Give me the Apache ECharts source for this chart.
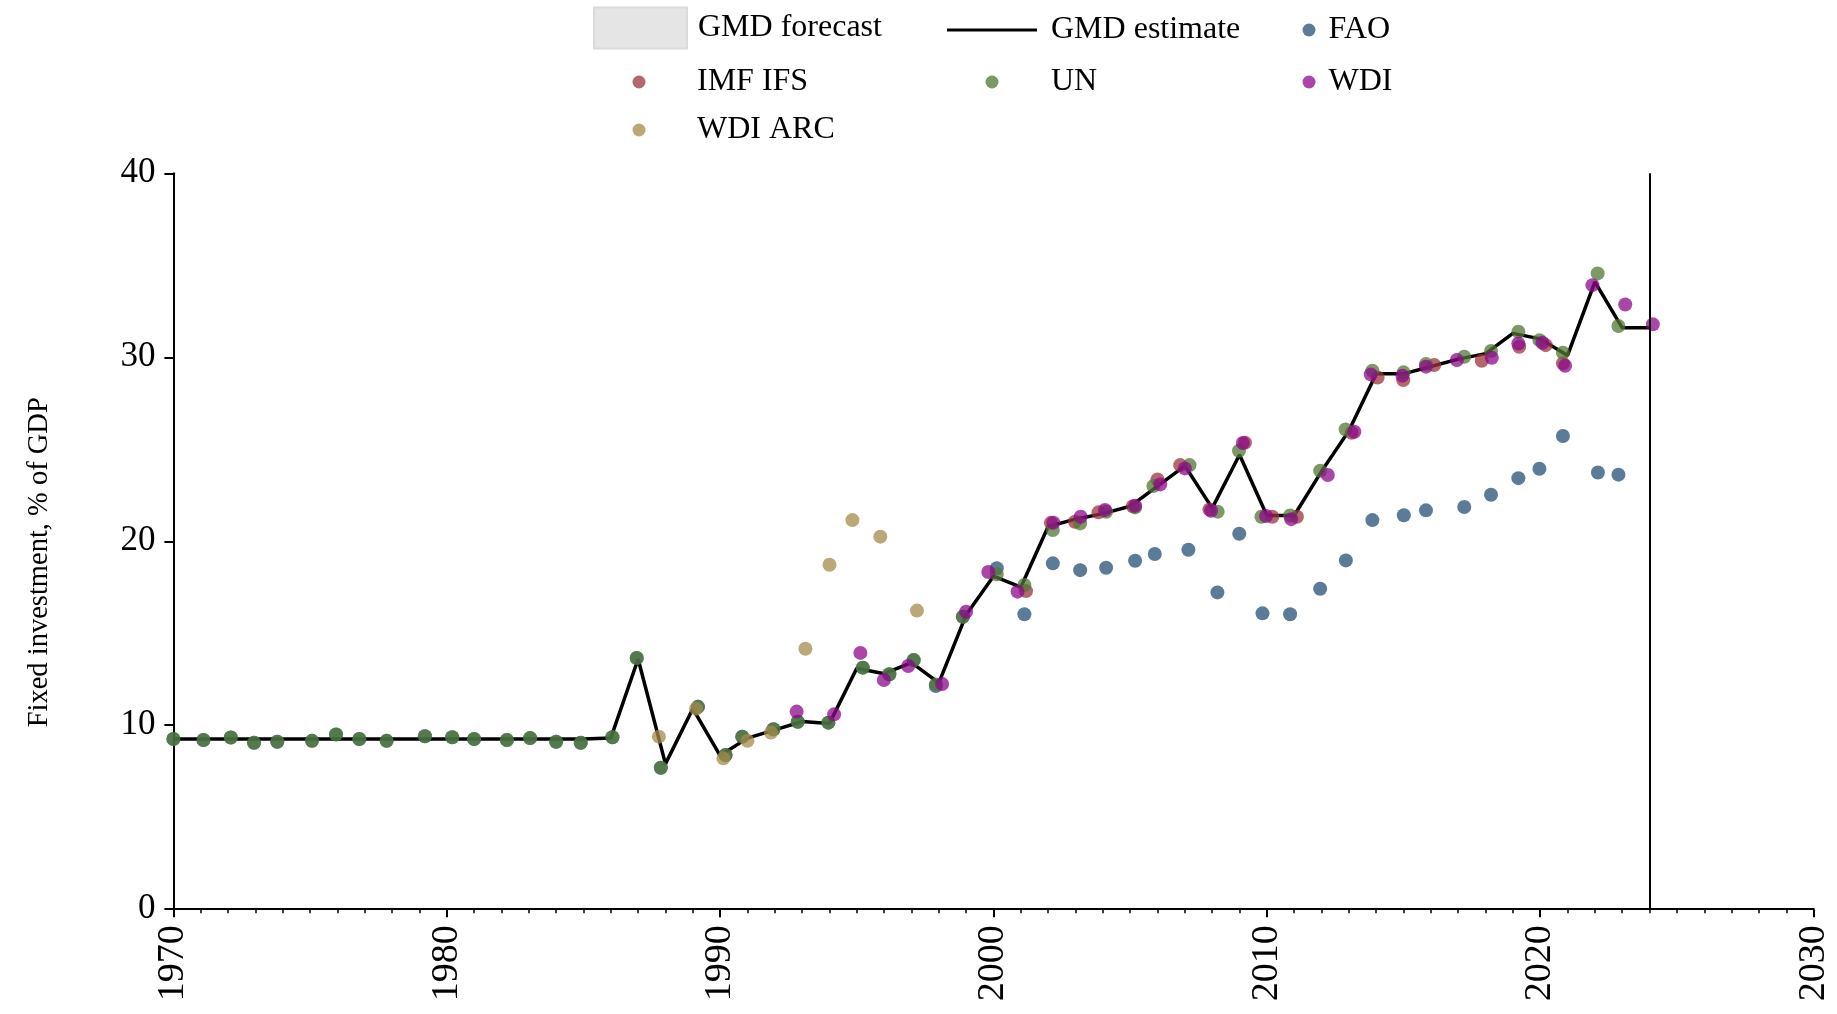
<!DOCTYPE html>
<html>
<head>
<meta charset="utf-8">
<script src="https://cdn.jsdelivr.net/npm/echarts@6/dist/echarts.min.js"></script>
<style>
html,body{margin:0;padding:0;background:#ffffff;}
#chart{width:1837px;height:1014px;}
</style>
</head>
<body>
<div id="chart"></div>
<script>
// ---------- DATA ----------
const gmdYears = [1970,1971,1972,1973,1974,1975,1976,1977,1978,1979,1980,1981,1982,1983,1984,1985,1986,1987,1988,1989,1990,1991,1992,1993,1994,1995,1996,1997,1998,1999,2000,2001,2002,2003,2004,2005,2006,2007,2008,2009,2010,2011,2012,2013,2014,2015,2016,2017,2018,2019,2020,2021,2022,2023,2024];
const gmdEstimate = [9.25,9.25,9.25,9.25,9.25,9.25,9.25,9.25,9.25,9.25,9.25,9.25,9.25,9.25,9.25,9.25,9.3,13.6,7.9,10.9,8.35,9.3,9.75,10.2,10.1,13.1,12.8,13.4,12.3,16.0,18.1,17.5,20.8,21.2,21.5,21.9,23.0,24.1,21.8,24.7,21.4,21.4,23.8,26.0,29.1,29.1,29.5,29.9,30.2,31.3,31.0,30.1,34.1,31.6,31.6];

const faoYears = [1970.0,1971.1,1972.1,1972.95,1973.8,1975.07,1975.95,1976.8,1977.8,1979.2,1980.2,1981.0,1982.2,1983.05,1984.0,1984.9,1986.06,1986.95,1987.83,1989.19,1990.2,1990.81,1991.95,1992.84,1993.96,1995.22,1996.19,1997.08,1997.89,1998.88,2000.12,2001.13,2002.17,2003.17,2004.12,2005.18,2005.9,2007.13,2008.19,2008.99,2009.84,2010.85,2011.95,2012.89,2013.86,2015.01,2015.82,2017.22,2018.2,2019.2,2019.97,2020.83,2022.11,2022.86];
const faoValues = [9.25,9.2,9.33,9.05,9.1,9.15,9.5,9.25,9.15,9.4,9.35,9.25,9.2,9.3,9.1,9.05,9.35,13.65,7.69,11.0,8.38,9.38,9.78,10.19,10.14,13.13,12.77,13.54,12.13,15.9,18.53,16.03,18.8,18.43,18.56,18.94,19.31,19.54,17.22,20.41,16.08,16.03,17.42,18.96,21.15,21.41,21.68,21.86,22.53,23.43,23.94,25.72,23.74,23.62];

const imfYears = [2001.19,2002.1,2002.98,2003.84,2005.1,2006.0,2006.83,2007.9,2009.2,2010.2,2011.1,2013.1,2014.05,2014.99,2016.12,2017.86,2019.23,2020.2,2020.83];
const imfValues = [17.29,21.0,21.06,21.57,21.9,23.36,24.14,21.73,25.36,21.33,21.33,25.9,28.9,28.76,29.58,29.81,30.57,30.66,29.67];

const unYears = [1970.0,1971.1,1972.1,1972.95,1973.8,1975.07,1975.95,1976.8,1977.8,1979.2,1980.2,1981.0,1982.2,1983.05,1984.0,1984.9,1986.06,1986.95,1987.83,1989.19,1990.2,1990.81,1991.95,1992.84,1993.96,1995.22,1996.19,1997.08,1997.89,1998.88,2000.12,2001.13,2002.17,2003.17,2004.12,2005.18,2005.85,2007.17,2008.2,2008.98,2009.8,2010.85,2011.95,2012.88,2013.86,2015.0,2015.82,2017.22,2018.2,2019.2,2019.97,2020.83,2022.1,2022.86];
const unValues = [9.25,9.2,9.33,9.05,9.1,9.15,9.5,9.25,9.15,9.4,9.35,9.25,9.2,9.3,9.1,9.05,9.35,13.65,7.69,11.0,8.38,9.38,9.78,10.19,10.14,13.13,12.77,13.54,12.22,15.9,18.2,17.62,20.61,20.97,21.6,21.84,23.0,24.14,21.61,24.92,21.33,21.4,23.83,26.08,29.27,29.18,29.63,30.03,30.34,31.39,30.93,30.25,34.56,31.7];

const wdiYears = [1992.8,1994.17,1995.13,1995.99,1996.88,1998.12,1999.0,1999.81,2000.88,2002.19,2003.19,2004.08,2005.18,2006.1,2007.0,2007.96,2009.12,2009.97,2010.89,2012.23,2013.2,2013.8,2014.96,2015.82,2016.95,2018.23,2019.2,2020.08,2020.91,2021.91,2023.11,2024.12];
const wdiValues = [10.74,10.59,13.93,12.46,13.22,12.24,16.17,18.33,17.26,21.01,21.33,21.7,21.93,23.09,23.96,21.66,25.34,21.37,21.2,23.6,25.95,29.07,29.0,29.49,29.85,29.97,30.75,30.79,29.54,33.92,32.87,31.79];

const arcYears = [1987.76,1989.12,1990.12,1991.0,1991.86,1993.12,1994.0,1994.84,1995.86,1997.2];
const arcValues = [9.38,10.9,8.2,9.16,9.6,14.16,18.72,21.15,20.25,16.23];

const forecastStart = 2024;
const xTicks = [1970, 1980, 1990, 2000, 2010, 2020, 2030];
const yTicks = [0, 10, 20, 30, 40];

// ---------- CHART ----------
const FONT = 'Liberation Serif';
const zip = (xs, ys) => xs.map((x, i) => [x, ys[i]]);
const DOT = 14;
const ALPHA = 0.75;

const chart = echarts.init(document.getElementById('chart'), null, {renderer: 'canvas'});

function legendAt(item, left, top, iw, ih, padLeft) {
  return {
    data: [item],
    left: left, top: top,
    orient: 'horizontal',
    padding: 0,
    itemGap: 0,
    itemWidth: iw, itemHeight: ih,
    selectedMode: false,
    textStyle: {fontFamily: FONT, fontSize: 32, color: '#000', lineHeight: 13, padding: [0, 0, 0, padLeft]}
  };
}

const option = {
  animation: false,
  backgroundColor: '#ffffff',
  grid: {left: 173.4, right: 23.4, top: 173.3, bottom: 104.8, containLabel: false},
  legend: [
    legendAt({name: 'GMD forecast', icon: 'rect', itemStyle: {color: '#e5e5e5', borderColor: '#dadada', borderWidth: 2, opacity: 1}}, 593, 6.5, 93, 41, 6),
    legendAt({name: 'GMD estimate', icon: 'rect', itemStyle: {color: '#000', opacity: 1}}, 947, 14, 90, 3, 9),
    legendAt('FAO', 1302.5, 14, 13, 13, 8),
    legendAt('IMF IFS', 632.5, 66, 13, 13, 46.5),
    legendAt('UN', 985.5, 66, 13, 13, 47.5),
    legendAt('WDI', 1302.5, 66, 13, 13, 8),
    legendAt('WDI ARC', 632.5, 114, 13, 13, 46.5)
  ],
  xAxis: {
    type: 'value',
    min: xTicks[0], max: xTicks[xTicks.length - 1], interval: 10,
    axisLine: {show: true, onZero: false, lineStyle: {color: '#000', width: 2}},
    axisTick: {show: true, inside: false, length: 8, lineStyle: {color: '#000', width: 2}},
    minorTick: {show: true, splitNumber: 10, length: 4, lineStyle: {color: '#000', width: 1.5}},
    splitLine: {show: false},
    minorSplitLine: {show: false},
    axisLabel: {rotate: 90, fontFamily: FONT, fontSize: 38, color: '#000', margin: 16, formatter: v => String(v)}
  },
  yAxis: {
    type: 'value',
    min: yTicks[0], max: yTicks[yTicks.length - 1], interval: 10,
    name: 'Fixed investment, % of GDP',
    nameLocation: 'middle',
    nameGap: 119,
    nameRotate: 90,
    nameTextStyle: {fontFamily: FONT, fontSize: 28.5, color: '#000', padding: [0, 42, 0, 0]},
    axisLine: {show: true, lineStyle: {color: '#000', width: 2}},
    axisTick: {show: true, inside: false, length: 9, lineStyle: {color: '#000', width: 2}},
    splitLine: {show: false},
    axisLabel: {fontFamily: FONT, fontSize: 35, color: '#000', margin: 18, formatter: v => String(v)}
  },
  series: [
    {
      name: 'GMD forecast', type: 'line', data: [],
      itemStyle: {color: '#e5e5e5'}
    },
    {
      name: 'GMD estimate', type: 'line',
      data: zip(gmdYears, gmdEstimate),
      symbol: 'none', showSymbol: false,
      lineStyle: {color: '#000', width: 3.5},
      itemStyle: {color: '#000'},
      z: 2,
      markLine: {
        silent: true, symbol: ['none', 'none'],
        label: {show: false},
        lineStyle: {color: '#000', width: 2, type: 'solid'},
        data: [{xAxis: forecastStart}]
      }
    },
    {name: 'FAO', type: 'scatter', data: zip(faoYears, faoValues), symbolSize: DOT, itemStyle: {color: '#244f77', opacity: ALPHA}, z: 3},
    {name: 'IMF IFS', type: 'scatter', data: zip(imfYears, imfValues), symbolSize: DOT, itemStyle: {color: '#9c343e', opacity: ALPHA}, z: 3},
    {name: 'UN', type: 'scatter', data: zip(unYears, unValues), symbolSize: DOT, itemStyle: {color: '#527833', opacity: ALPHA}, z: 3},
    {name: 'WDI', type: 'scatter', data: zip(wdiYears, wdiValues), symbolSize: DOT, itemStyle: {color: '#8c088b', opacity: ALPHA}, z: 3},
    {name: 'WDI ARC', type: 'scatter', data: zip(arcYears, arcValues), symbolSize: DOT, itemStyle: {color: '#a48b4b', opacity: ALPHA}, z: 3}
  ]
};
chart.setOption(option);
</script>
</body>
</html>
